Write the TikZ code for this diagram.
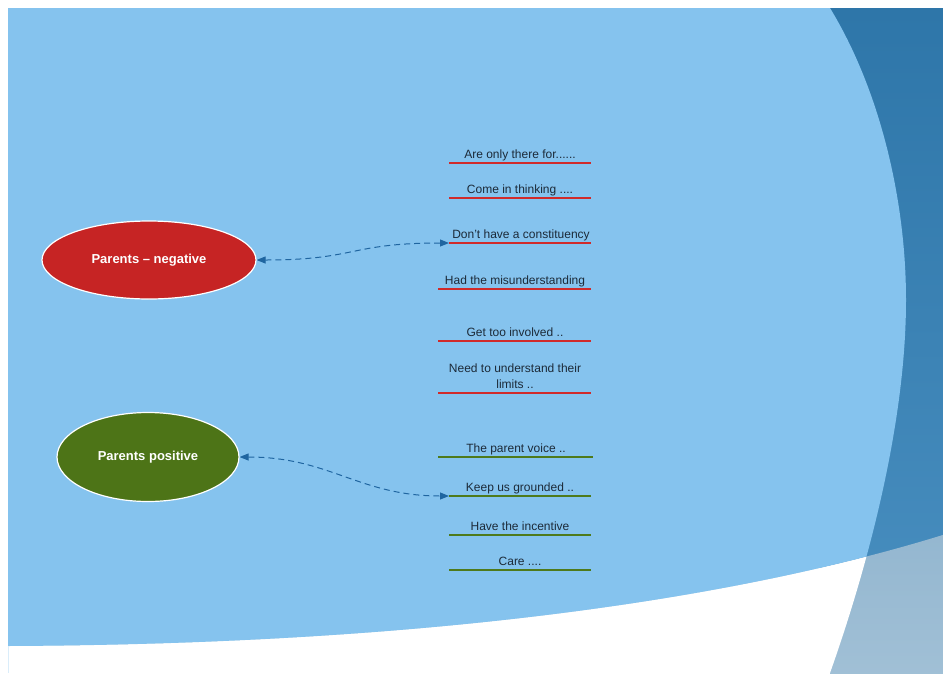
\documentclass[tikz,border=0pt]{standalone}
\usepackage{fontspec}
\setmainfont{Liberation Sans}
\usepackage{xcolor}
\usetikzlibrary{arrows.meta,shapes.geometric}

\definecolor{slideblue}{HTML}{85C3EE}
\definecolor{deepblue}{HTML}{2E76A9}
\definecolor{deepbluelow}{HTML}{4A90C1}
\definecolor{greyblue}{HTML}{94B7D0}
\definecolor{greybluelow}{HTML}{A1C0D6}
\definecolor{negred}{HTML}{D02A2A}
\definecolor{negfill}{HTML}{C62424}
\definecolor{posgreen}{HTML}{4E7A1B}
\definecolor{posfill}{HTML}{4D7417}
\definecolor{itemtext}{HTML}{1C2A38}
\definecolor{linkblue}{HTML}{1F65A0}

\begin{document}
\begin{tikzpicture}[x=1pt,y=-1pt,
    bubble/.style={ellipse, draw=white, line width=1.2pt, text=white,
      font=\fontsize{13}{15}\selectfont\bfseries},
    item/.style={font=\fontsize{12}{16}\selectfont, text=itemtext,
      inner sep=0pt, anchor=base, align=center},
    negline/.style={line width=2.4pt, negred},
    posline/.style={line width=2.4pt, posgreen},
    link/.style={dash pattern=on 6pt off 4pt, linkblue, line width=1pt,
      {Triangle[length=9pt,width=7pt]}-{Triangle[length=9pt,width=7pt]}}]
  \useasboundingbox (0,0) rectangle (943,673);

  % slide background
  \shade[top color=deepblue, bottom color=deepbluelow] (820,8) rectangle (946,680);
  \shade[top color=greyblue, bottom color=greybluelow]
    (8,646) .. controls (450,644) and (750,595) .. (946,534) -- (946,680) -- (8,680) -- cycle;
  \begin{scope}
    \clip (8,646) .. controls (450,644) and (750,595) .. (946,534) -- (946,680) -- (8,680) -- cycle;
    \fill[white] (0,8) -- (830,8) .. controls (880,90) and (906,200) .. (906,300)
      .. controls (906,420) and (870,560) .. (830,673) -- (828,680) -- (0,680) -- cycle;
  \end{scope}
  \begin{scope}
    \clip (0,0) -- (0,646) -- (8,646) .. controls (450,644) and (750,595) .. (946,534) -- (946,0) -- cycle;
    \fill[slideblue] (8,8) -- (830,8) .. controls (880,90) and (906,200) .. (906,300)
      .. controls (906,420) and (870,560) .. (830,673) -- (8,673) -- cycle;
  \end{scope}
  \draw[slideblue!30, line width=0.6pt] (8,646) -- (8,673);

  % the two groups
  \node[bubble, fill=negfill, minimum width=214pt, minimum height=78pt] (neg) at (149,260) {Parents -- negative};
  \node[bubble, fill=posfill, minimum width=182pt, minimum height=89pt] (pos) at (148,457) {Parents positive};

  % negative items
  \draw[negline] (449,163) -- (591,163);
  \node[item] (therefor) at (520,158) {Are only there for......};
  \draw[negline] (449,198) -- (591,198);
  \node[item] (thinking) at (520,193) {Come in thinking ....};
  \draw[negline] (449,243) -- (591,243);
  \coordinate (const) at (449,243);
  \node[item] (constituency) at (521,238) {Don't have a constituency};
  \draw[negline] (438,289) -- (591,289);
  \node[item] (misunder) at (515,284) {Had the misunderstanding};
  \draw[negline] (438,341) -- (591,341);
  \node[item] (involved) at (515,336) {Get too involved ..};
  \draw[negline] (438,393) -- (591,393);
  \node[item] (limits) at (515,388) {Need to understand their\\limits ..};

  % positive items
  \draw[posline] (438,457) -- (593,457);
  \node[item] (voice) at (516,452) {The parent voice ..};
  \draw[posline] (449,496) -- (591,496);
  \coordinate (ground) at (449,496);
  \node[item] (grounded) at (520,491) {Keep us grounded ..};
  \draw[posline] (449,535) -- (591,535);
  \node[item] (incentive) at (520,530) {Have the incentive};
  \draw[posline] (449,570) -- (591,570);
  \node[item] (care) at (520,565) {Care ....};

  % links
  \draw[link] (neg.east) .. controls +(100,0) and +(-100,0) .. (const);
  \draw[link] (pos.east) .. controls +(90,0) and +(-90,0) .. (ground);
\end{tikzpicture}
\end{document}
